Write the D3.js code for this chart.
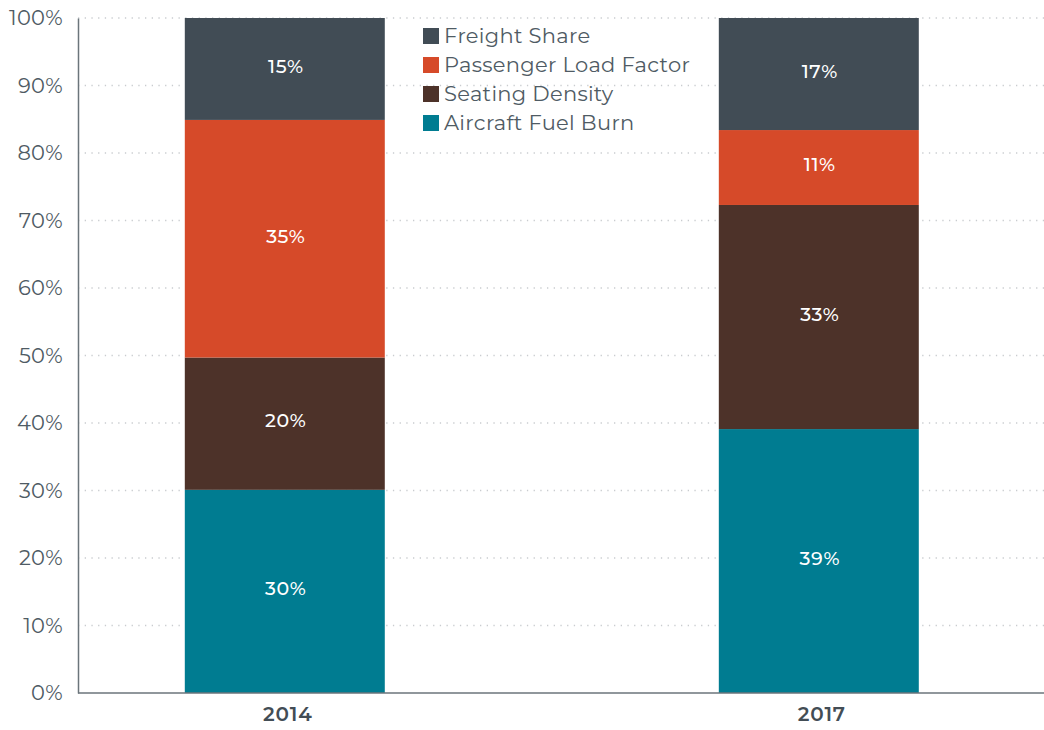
<!DOCTYPE html>
<html><head><meta charset="utf-8">
<script src="https://cdn.jsdelivr.net/npm/d3@7"></script>
<style>
html,body{margin:0;padding:0;background:#fff;}
svg{display:block;font-family:Montserrat,"Noto Sans",Lato,sans-serif;}
</style></head>
<body>
<svg id="chart" width="1044" height="730"></svg>
<script>
const years = ["2014", "2017"];
const seriesNames = ["Aircraft Fuel Burn", "Seating Density", "Passenger Load Factor", "Freight Share"];
const fuelBurn = [30.1, 39.1];
const seatingDensity = [19.6, 33.2];
const passengerLoad = [35.2, 11.1];
const freightShare = [15.1, 16.6];
const barLabels = [["30%","39%"],["20%","33%"],["35%","11%"],["15%","17%"]];
const yTicks = [0,10,20,30,40,50,60,70,80,90,100];
const legendOrder = ["Freight Share", "Passenger Load Factor", "Seating Density", "Aircraft Fuel Burn"];
const colors = {"Aircraft Fuel Burn":"#007c91","Seating Density":"#4d3229","Passenger Load Factor":"#d64a29","Freight Share":"#414c55"};

(function(){
const values = [fuelBurn, seatingDensity, passengerLoad, freightShare];
const table = years.map((yr,i)=>{const o={year:yr}; seriesNames.forEach((s,k)=>o[s]=values[k][i]); return o;});
const stack = d3.stack().keys(seriesNames)(table);

const svg = d3.select("#chart");
const mLeft = 78, mRight = 1044, mTop = 18, mBottom = 693;
const x = d3.scaleBand().domain(years).range([mLeft, 1025.6]).paddingInner(0.6255).paddingOuter(0.2);
const y = d3.scaleLinear().domain([0,100]).range([mBottom, mTop]);

// grid
svg.append("g").selectAll("line").data(yTicks.filter(t=>t>0)).join("line")
  .attr("x1", mLeft).attr("x2", mRight).attr("y1", d=>y(d)).attr("y2", d=>y(d))
  .attr("stroke", "#c9cccf").attr("stroke-width", 1.3).attr("stroke-dasharray", "1.3,5.4");

// bars
const g = svg.append("g");
stack.forEach((layer, li)=>{
  g.append("g").selectAll("rect").data(layer).join("rect")
    .attr("x", d=>x(d.data.year)).attr("width", x.bandwidth())
    .attr("y", d=>y(d[1])).attr("height", d=>y(d[0])-y(d[1]))
    .attr("fill", colors[layer.key]);
  g.append("g").selectAll("text").data(layer).join("text")
    .attr("x", d=>x(d.data.year)+x.bandwidth()/2 + 1)
    .attr("y", d=>(y(d[0])+y(d[1]))/2)
    .attr("dy", "0.2em").attr("text-anchor","middle")
    .attr("fill","#fff").attr("font-size", 19).attr("font-weight", 500)
    .attr("letter-spacing", 0.6)
    .text((d,i)=>barLabels[li][i]);
});

// y axis
const yAxis = d3.axisLeft(y).tickValues(yTicks).tickFormat(d=>d+"%").tickSize(0).tickPadding(15);
const ya = svg.append("g").attr("transform", `translate(${mLeft},0)`).call(yAxis);
ya.select(".domain").attr("stroke","#6b757b").attr("stroke-width",1.5);
ya.selectAll("text").attr("font-size", 21).attr("fill","#4f5b64").attr("letter-spacing", 0.3)
  .attr("font-family","Montserrat,'Noto Sans',Lato,sans-serif");

// x axis
const xAxis = d3.axisBottom(x).tickSize(0).tickPadding(14);
const xa = svg.append("g").attr("transform", `translate(0,${mBottom})`).call(xAxis);
xa.select(".domain").attr("d", `M${mLeft},0H${mRight}`).attr("stroke","#6b757b").attr("stroke-width",1.5);
xa.selectAll("text").attr("font-size", 20).attr("font-weight", 600).attr("fill","#434d55").attr("letter-spacing", 0.8)
  .attr("dx", 3).attr("font-family","Montserrat,'Noto Sans',Lato,sans-serif");

// legend
const lg = svg.append("g").attr("transform","translate(423,28)");
const items = lg.selectAll("g").data(legendOrder).join("g").attr("transform",(d,i)=>`translate(0,${i*29})`);
items.append("rect").attr("width",16).attr("height",16).attr("fill", d=>colors[d]);
items.append("text").attr("x",21).attr("y",7).attr("dy","0.36em")
  .attr("font-size",21).attr("letter-spacing", 0.3).attr("fill","#4f5b64").text(d=>d);
})();
</script>
</body></html>
